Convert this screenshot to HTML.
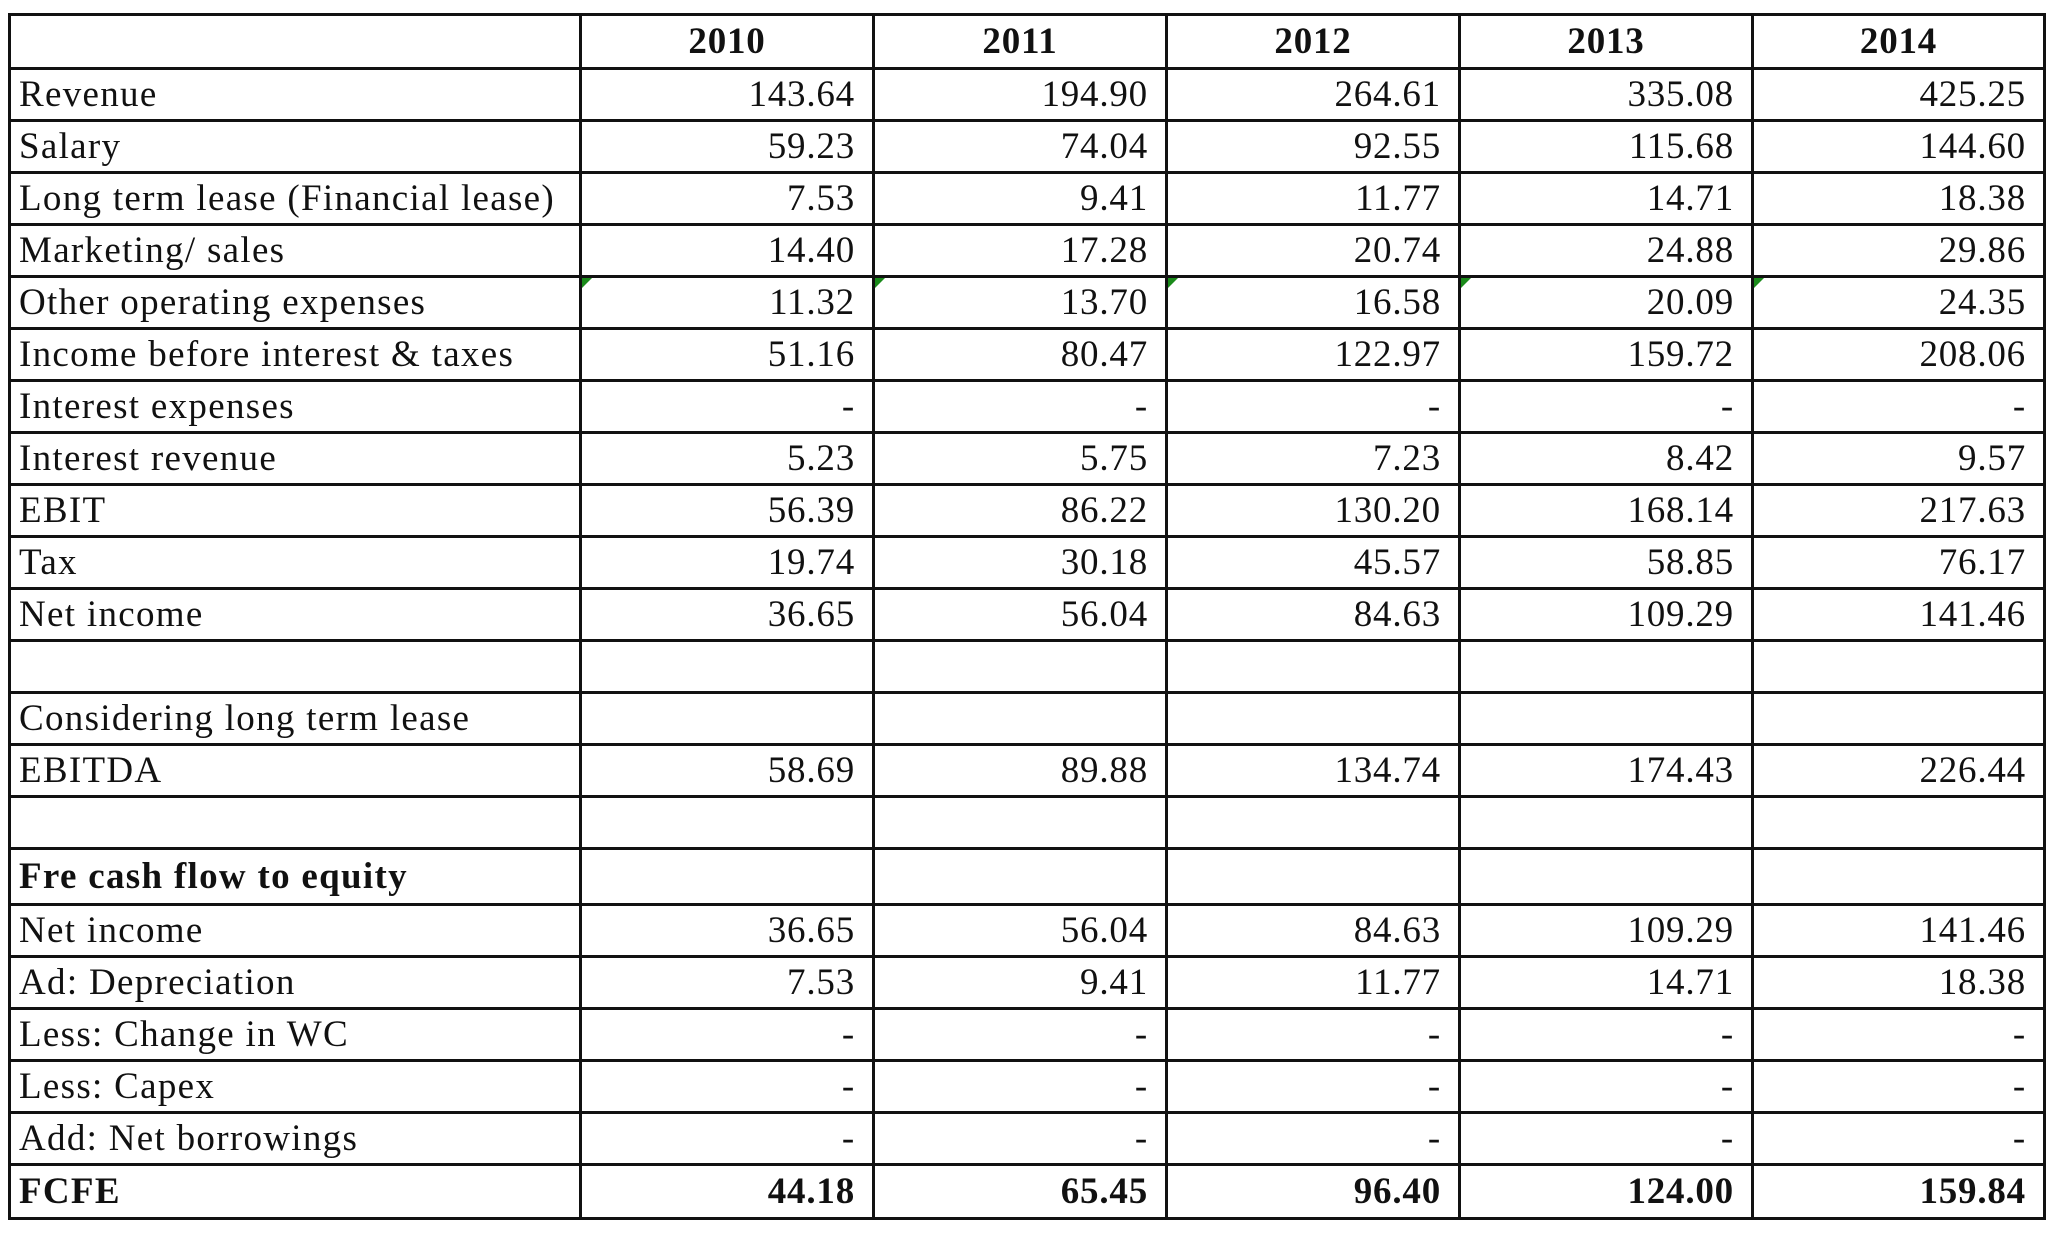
<!DOCTYPE html>
<html><head><meta charset="utf-8"><style>
html,body{margin:0;padding:0;background:#fff;width:2046px;height:1233px;overflow:hidden}
table{position:absolute;left:8px;top:13px;border-collapse:collapse;table-layout:fixed;font-family:"Liberation Serif",serif;font-size:37px;color:#111;letter-spacing:0.8px}
td{border:3px solid #111;padding:0 17px 0 0;text-align:right;vertical-align:middle;height:49px;line-height:49px;position:relative;white-space:nowrap;overflow:hidden}
td:first-child{text-align:left;padding:0 0 0 8px;letter-spacing:1.3px}
tr.h td{text-align:center;font-weight:bold;height:51px;padding:0}
tr.t td{height:53px}
tr.f td{height:51px;font-weight:bold}
tr.g td:not(:first-child)::before{content:"";position:absolute;left:0;top:0;border-top:10px solid #1a8a1a;border-right:10px solid transparent}
tr.b td:first-child{font-weight:bold}
</style></head><body>
<table>
<colgroup><col style="width:571px"><col style="width:293px"><col style="width:293px"><col style="width:293px"><col style="width:293px"><col style="width:292px"></colgroup>
<tr class="h"><td></td><td>2010</td><td>2011</td><td>2012</td><td>2013</td><td>2014</td></tr>
<tr><td>Revenue</td><td>143.64</td><td>194.90</td><td>264.61</td><td>335.08</td><td>425.25</td></tr>
<tr><td>Salary</td><td>59.23</td><td>74.04</td><td>92.55</td><td>115.68</td><td>144.60</td></tr>
<tr><td>Long term lease (Financial lease)</td><td>7.53</td><td>9.41</td><td>11.77</td><td>14.71</td><td>18.38</td></tr>
<tr><td>Marketing/ sales</td><td>14.40</td><td>17.28</td><td>20.74</td><td>24.88</td><td>29.86</td></tr>
<tr class="g"><td>Other operating expenses</td><td>11.32</td><td>13.70</td><td>16.58</td><td>20.09</td><td>24.35</td></tr>
<tr><td>Income before interest &amp; taxes</td><td>51.16</td><td>80.47</td><td>122.97</td><td>159.72</td><td>208.06</td></tr>
<tr><td>Interest expenses</td><td>-</td><td>-</td><td>-</td><td>-</td><td>-</td></tr>
<tr><td>Interest revenue</td><td>5.23</td><td>5.75</td><td>7.23</td><td>8.42</td><td>9.57</td></tr>
<tr><td>EBIT</td><td>56.39</td><td>86.22</td><td>130.20</td><td>168.14</td><td>217.63</td></tr>
<tr><td>Tax</td><td>19.74</td><td>30.18</td><td>45.57</td><td>58.85</td><td>76.17</td></tr>
<tr><td>Net income</td><td>36.65</td><td>56.04</td><td>84.63</td><td>109.29</td><td>141.46</td></tr>
<tr><td></td><td></td><td></td><td></td><td></td><td></td></tr>
<tr><td>Considering long term lease</td><td></td><td></td><td></td><td></td><td></td></tr>
<tr><td>EBITDA</td><td>58.69</td><td>89.88</td><td>134.74</td><td>174.43</td><td>226.44</td></tr>
<tr><td></td><td></td><td></td><td></td><td></td><td></td></tr>
<tr class="t b"><td>Fre cash flow to equity</td><td></td><td></td><td></td><td></td><td></td></tr>
<tr><td>Net income</td><td>36.65</td><td>56.04</td><td>84.63</td><td>109.29</td><td>141.46</td></tr>
<tr><td>Ad: Depreciation</td><td>7.53</td><td>9.41</td><td>11.77</td><td>14.71</td><td>18.38</td></tr>
<tr><td>Less: Change in WC</td><td>-</td><td>-</td><td>-</td><td>-</td><td>-</td></tr>
<tr><td>Less: Capex</td><td>-</td><td>-</td><td>-</td><td>-</td><td>-</td></tr>
<tr><td>Add: Net borrowings</td><td>-</td><td>-</td><td>-</td><td>-</td><td>-</td></tr>
<tr class="f"><td>FCFE</td><td>44.18</td><td>65.45</td><td>96.40</td><td>124.00</td><td>159.84</td></tr>
</table>
</body></html>
